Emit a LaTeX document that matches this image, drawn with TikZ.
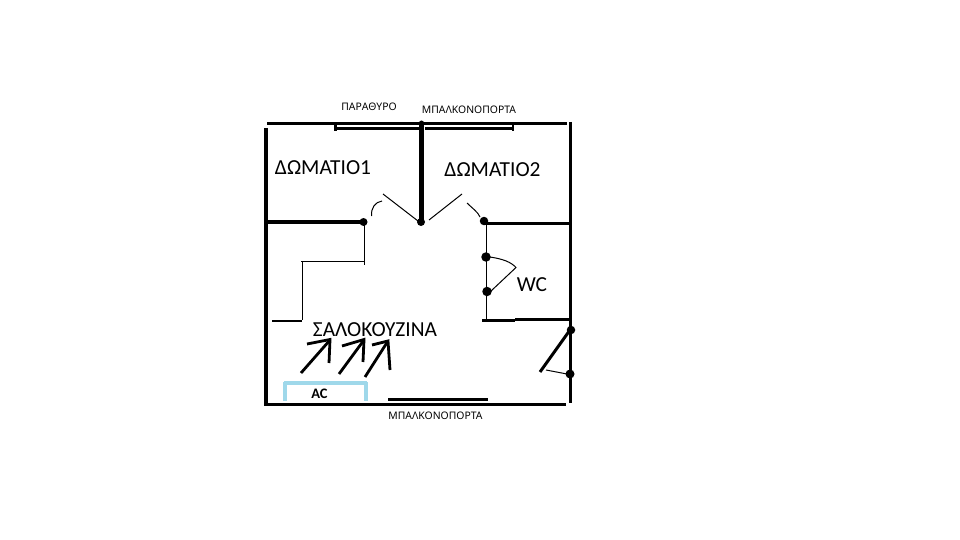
\documentclass[tikz,border=0pt]{standalone}
\usepackage{fontspec}
\setmainfont{Carlito}
\newfontfamily\smallfont{Noto Sans}
\tikzset{
  wall/.style={line width=3pt,black},
  heavy/.style={line width=4.5pt,black},
  thin/.style={line width=1pt,black},
  arrowline/.style={line width=2.8pt,black},
  acline/.style={line width=3.5pt,color=acblue},
  dot/.style={circle,fill=black,inner sep=0pt,minimum size=#1},
  big/.style={font=\fontsize{21.4}{22}\selectfont,inner sep=0pt,text=black},
  small/.style={font=\smallfont\fontsize{10.4}{12}\selectfont,inner sep=0pt,text=black},
}
\definecolor{acblue}{HTML}{9FD8EA}
\begin{document}
\begin{tikzpicture}[x=1pt,y=-1pt]
\useasboundingbox[fill=white] (0,0) rectangle (960,540);
% outer walls
\draw[wall] (267,123.5) -- (567,123.5);
\draw[wall] (570,122) -- (570,403);
\draw[heavy] (266,128) -- (266,404);
\draw[wall] (264,404) -- (566,404);
% openings on top wall
\draw[line width=2.2pt] (335,128.5) -- (421,128.5);
\draw[line width=2.2pt] (425,128.5) -- (513,128.5);
\draw[line width=2.2pt] (335.5,125) -- (335.5,131);
\draw[line width=2.2pt] (513,125) -- (513,131);
% inner walls
\draw[line width=5pt] (421.5,122) -- (421.5,222);
\draw[heavy] (268,222) -- (363,222);
\draw[wall] (484,223) -- (570,223);
\node[dot=8pt] (d1) at (363.5,222) {};
\node[dot=8pt] (d2) at (421,222) {};
\node[dot=8.5pt] (d3) at (484,221) {};
\node[dot=5pt] at (421.5,123) {};
% doors of rooms
\draw[thin] (383,194) -- (418,221);
\draw[thin] (462,194) -- (429,220);
\draw[thin] (382,201) .. controls (375,202) and (371,208) .. (371.5,216);
\draw[thin] (467,203) .. controls (472,208) and (478,212) .. (480,217);
% kitchen partition
\draw[thin] (364.5,222) -- (364.5,265);
\draw[thin] (301,261.5) -- (364.5,261.5);
\draw[thin] (302,261.5) -- (302,320);
\draw[line width=1.7pt] (272,321) -- (302,321);
% WC
\draw[thin] (486.5,222) -- (486.5,320);
\draw[wall] (482,320) -- (515,320);
\draw[line width=2.2pt] (515,319.5) -- (570,319.5);
\node[dot=9.5pt] (d4) at (486,257) {};
\node[dot=9.5pt] (d5) at (487,291.5) {};
\draw[thin] (490,257) .. controls (503,259) and (511,262) .. (516,267.5) -- (491,291);
% right door
\node[dot=8.5pt] (d6) at (571,330) {};
\node[dot=9pt] (d7) at (570,374) {};
\draw[wall] (570,330) -- (540,372);
\draw[thin] (546,370) -- (567,374);
% arrows
\draw[arrowline] (301,373) -- (330,340);
\draw[arrowline] (307,344) -- (330,339.5) -- (329,363);
\draw[arrowline] (339,374) -- (364,340);
\draw[arrowline] (342,346) -- (364,339.5) -- (363,362);
\draw[arrowline] (365,377) -- (388,341);
\draw[arrowline] (372,345) -- (388,341) -- (390,370);
% AC
\draw[acline] (284,383) -- (367,383);
\draw[acline,line width=4pt] (284.5,382) -- (284.5,401);
\draw[acline,line width=4pt] (366,382) -- (366,401);
\node[font=\fontsize{14.5}{15}\selectfont\bfseries,inner sep=0pt] (ac) at (319.5,393.5) {AC};
% balcony door bottom
\draw[line width=2.8pt] (388,399.5) -- (488,399.5);
% labels
\node[big] (r1) at (323,168) {ΔΩΜΑΤΙΟ1};
\node[big] (r2) at (492.5,170) {ΔΩΜΑΤΙΟ2};
\node[big] (liv) at (375,330) {ΣΑΛΟΚΟΥΖΙΝΑ};
\node[big] (wc) at (532,285) {WC};
\node[small] (win) at (369,106.5) {ΠΑΡΑΘΥΡΟ};
\node[small] (bal1) at (469,110) {ΜΠΑΛΚΟΝΟΠΟΡΤΑ};
\node[small] (bal2) at (435.5,415.5) {ΜΠΑΛΚΟΝΟΠΟΡΤΑ};
\end{tikzpicture}
\end{document}
